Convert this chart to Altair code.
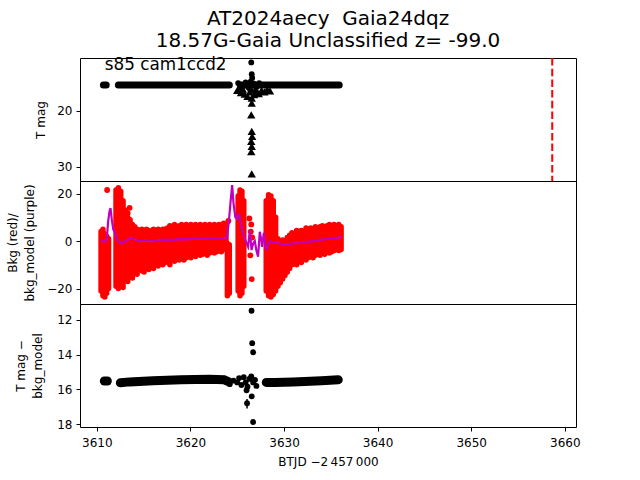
import altair as alt
import pandas as pd

FONT = "DejaVu Sans"

# ---------------- data ----------------
# Panel 1 (T mag): dense detections form a narrow band, one entry per segment end
mag_band = [(3610.7, 15.33, "A"), (3611.0, 15.33, "A"),
            (3612.3, 15.33, "B"), (3624.16, 15.33, "B"),
            (3625.33, 15.33, "C"), (3635.9, 15.33, "C")]
mag_pts = [(3626.50, 11.3), (3626.55, 13.4), (3626.60, 14.1), (3625.1, 15.0), (3625.5, 15.7),
           (3625.9, 14.9), (3626.2, 15.8), (3626.45, 14.7), (3626.75, 15.1), (3627.05, 15.75),
           (3627.35, 15.0), (3626.4, 16.3), (3625.3, 15.9)]
mag_limits = [(3626.55, 18.6), (3626.50, 20.7), (3626.55, 23.7), (3626.60, 24.6), (3626.50, 25.5),
              (3626.55, 26.4), (3626.50, 27.3), (3626.55, 31.3),
              (3625.0, 16.3), (3625.4, 16.7), (3625.8, 17.0), (3626.1, 17.4), (3626.35, 16.6),
              (3626.55, 17.7), (3626.8, 17.1), (3627.0, 16.6), (3627.3, 16.9), (3627.6, 16.3),
              (3627.9, 16.6), (3628.2, 16.2), (3628.5, 16.4), (3625.6, 16.1), (3626.95, 16.1)]
peak_time = [3658.66]
sector_label = "s85 cam1ccd2"

# Panel 2 (background): spread of red points per time step (t, low, high)
bkg_cols = [
    (3610.45, -21, 4), (3610.65, -23, 5), (3610.85, -23.5, 3), (3611.05, -22, 2), (3611.25, -20, 1),
    (3612.05, -19, 21.5), (3612.3, -20, 22.5), (3612.55, -19, 21), (3612.8, -19.5, 17),
    (3613.05, -16, 13), (3613.3, -17, 10), (3613.55, -14, 9), (3613.8, -15.5, 7),
    (3614.05, -13, 6), (3614.3, -14, 5), (3614.55, -12, 4.5), (3614.8, -12.5, 5),
    (3615.05, -13, 4), (3615.3, -11, 5), (3615.55, -12, 4.5), (3615.8, -10.5, 4),
    (3616.05, -11.5, 5), (3616.3, -10, 4.5), (3616.55, -10.5, 5), (3616.8, -9, 4.5),
    (3617.05, -10, 5), (3617.3, -9, 5), (3617.55, -8.5, 5.5), (3617.8, -10, 6.5),
    (3618.05, -8, 6), (3618.3, -8.5, 7), (3618.55, -7.5, 6), (3618.8, -8, 6.5),
    (3619.05, -7, 7), (3619.3, -8, 6.5), (3619.55, -7, 7), (3619.8, -6.5, 6.5),
    (3620.05, -7, 7), (3620.3, -6, 6.5), (3620.55, -6.5, 7), (3620.8, -5.5, 6.5),
    (3621.05, -6, 7), (3621.3, -5.5, 6.5), (3621.55, -5, 7), (3621.8, -6, 6.5),
    (3622.05, -5, 7), (3622.3, -4.5, 6.5), (3622.55, -5, 7), (3622.8, -4.5, 6.5),
    (3623.05, -4, 7), (3623.3, -4.5, 6.5), (3623.55, -3.5, 7.5), (3623.8, -3, 7),
    (3623.95, -23, -1), (3624.15, -22, -1.5),
    (3625.1, -21, 19), (3625.3, -23, 21.5), (3625.5, -22, 21), (3625.7, -19, 17),
    (3628.1, -21, 17), (3628.35, -23, 19.5), (3628.6, -23.5, 19), (3628.85, -22.5, 17),
    (3629.1, -21, 10), (3629.35, -19, 1), (3629.6, -17.5, -0.5), (3629.85, -16, 0.5),
    (3630.1, -14.5, -0.5), (3630.35, -13, 1.5), (3630.6, -11.5, 2.5), (3630.85, -10, 3.5),
    (3631.1, -9.5, 3), (3631.35, -10, 4.5), (3631.6, -8.5, 4), (3631.85, -9, 4.5),
    (3632.1, -7.5, 4), (3632.35, -8, 5.5), (3632.6, -7, 5), (3632.85, -6.5, 5.5),
    (3633.1, -7, 5), (3633.35, -6, 6), (3633.6, -5.5, 5.5), (3633.85, -6, 6),
    (3634.1, -5, 6.5), (3634.35, -5.5, 6), (3634.6, -4.5, 6.5), (3634.85, -5, 7),
    (3635.1, -4.5, 6), (3635.35, -4, 7), (3635.6, -3.5, 6.5), (3635.85, -4, 7), (3636.1, -3.5, 6),
]
bkg_dots = [(3611.1, 21.5), (3613.3, 11.8), (3613.5, 14.0), (3624.05, 8.5), (3626.3, 9.5),
            (3626.5, 7.0), (3626.45, 4.0), (3626.6, 1.5), (3626.55, -16.0), (3626.4, -6.0)]
bkg_model = [
    (3610.45, 0.0), (3610.8, -0.2), (3611.05, 0.3), (3611.2, 8.0), (3611.35, 12.5), (3611.46, 13.9),
    (3611.6, 9.0), (3611.75, 5.0), (3611.95, 3.4), (3612.15, 0.8), (3612.4, -0.4), (3612.7, -1.0),
    (3613.0, -0.2), (3613.3, 0.5), (3613.6, 1.3), (3613.9, 1.0), (3614.3, 0.2), (3614.7, 0.0),
    (3615.2, 0.3), (3615.8, -0.1), (3616.5, 0.4), (3617.2, 0.6), (3618.0, 0.5), (3618.8, 0.8),
    (3619.6, 0.7), (3620.4, 1.0), (3621.2, 0.9), (3622.0, 1.1), (3622.8, 1.2), (3623.5, 1.2),
    (3623.9, 1.5), (3624.1, 8.0), (3624.3, 17.0), (3624.46, 23.6), (3624.6, 16.0), (3624.8, 10.0),
    (3625.0, 9.5), (3625.17, 11.6), (3625.35, 8.0), (3625.55, 4.5), (3625.8, 1.1), (3626.0, -1.0),
    (3626.16, -2.4), (3626.35, 4.6), (3626.53, -3.8), (3626.7, -1.0), (3626.88, 0.0), (3627.05, -4.0),
    (3627.23, -6.6), (3627.41, 3.9), (3627.55, 1.0), (3627.66, -2.4), (3627.84, 3.4), (3628.0, -1.5),
    (3628.13, -3.8), (3628.3, -1.5), (3628.5, 0.0), (3628.8, -0.5), (3629.2, -0.8), (3629.7, -1.2),
    (3630.3, -1.4), (3631.0, -1.0), (3631.7, -0.8), (3632.4, -0.3), (3633.1, 0.0), (3633.8, 0.4),
    (3634.5, 0.9), (3635.2, 1.2), (3635.8, 1.5), (3636.15, 1.8),
]

# Panel 3 (T mag - bkg_model)
diff_band = [(3610.8, 15.52, "A"), (3611.12, 15.52, "A"),
             (3612.51, 15.62, "B"), (3613.5, 15.57, "B"), (3616.0, 15.5, "B"), (3619.0, 15.45, "B"),
             (3622.0, 15.42, "B"), (3623.6, 15.45, "B"), (3624.05, 15.55, "B"),
             (3628.1, 15.6, "D"), (3629.0, 15.6, "D"), (3631.0, 15.57, "D"), (3634.0, 15.5, "D"),
             (3635.8, 15.45, "D")]
diff_pts = [(3626.53, 11.47), (3626.6, 13.34), (3626.7, 13.86), (3625.0, 15.6), (3625.2, 15.35),
            (3625.45, 15.75), (3625.7, 15.3), (3625.9, 15.6), (3626.1, 15.85), (3626.3, 15.4),
            (3626.5, 15.25), (3626.7, 15.6), (3626.9, 15.45), (3627.05, 15.8), (3626.0, 16.05),
            (3626.55, 16.4), (3626.05, 16.8), (3626.7, 17.88), (3624.6, 15.5), (3624.2, 15.7)]
diff_err = [(3626.05, 16.55, 17.1)]

# ---------------- tables ----------------
df_mag_band = pd.DataFrame(mag_band, columns=["t", "m", "seg"])
df_mag_pts = pd.DataFrame(mag_pts, columns=["t", "m"])
df_mag_lim = pd.DataFrame(mag_limits, columns=["t", "m"])
df_peak = pd.DataFrame({"t": peak_time})
df_bkg = pd.DataFrame(bkg_cols, columns=["t", "lo", "hi"])
df_bkg_dots = pd.DataFrame(bkg_dots, columns=["t", "v"])
df_model = pd.DataFrame(bkg_model, columns=["t", "v"])
df_diff_band = pd.DataFrame(diff_band, columns=["t", "m", "seg"])
df_diff_pts = pd.DataFrame(diff_pts, columns=["t", "m"])
df_diff_err = pd.DataFrame(diff_err, columns=["t", "lo", "hi"])

W, H = 496, 123
xs = alt.Scale(domain=[3608.2, 3661.2], nice=False, zero=False)
x_none = alt.X("t:Q", scale=xs, axis=None)


def yaxis(title, tx, values):
    return alt.Axis(title=title, titleX=tx, titleY=H / 2, titleAlign="center",
                    titleBaseline="middle", titleAngle=-90, values=values, titleLineHeight=17)


# Panel 1
s1 = alt.Scale(domain=[10.5, 32.6], reverse=True, nice=False, zero=False)
y1 = lambda f: alt.Y(f, scale=s1, axis=yaxis("T mag", -40, [20, 30]))
p1 = alt.layer(
    alt.Chart(df_mag_band).mark_line(color="black", strokeWidth=7, strokeCap="round", clip=True)
    .encode(x=x_none, y=y1("m:Q"), detail="seg:N"),
    alt.Chart(df_mag_pts).mark_circle(color="black", size=34, opacity=1, clip=True)
    .encode(x=x_none, y=y1("m:Q")),
    alt.Chart(df_mag_lim).mark_point(shape="triangle-up", filled=True, color="black", size=70,
                                     opacity=1, clip=True)
    .encode(x=x_none, y=y1("m:Q")),
    alt.Chart(df_peak).mark_rule(color="red", strokeWidth=2, strokeDash=[7.5, 3.2])
    .encode(x=x_none),
    alt.Chart(df_peak).mark_text(text=sector_label, align="left", baseline="middle",
                                 font=FONT, fontSize=16.8, color="black")
    .encode(x=alt.datum(3610.85, scale=xs), y=alt.datum(11.75, scale=s1)),
).properties(
    width=W, height=H,
    title=alt.TitleParams(["AT2024aecy\u00a0 Gaia24dqz", "18.57G-Gaia Unclassified z= -99.0"],
                          fontSize=20, font=FONT, fontWeight="normal", color="black",
                          anchor="middle", frame="group", offset=6, lineHeight=22),
)

# Panel 2
s2 = alt.Scale(domain=[-26.5, 25.3], nice=False, zero=False)
p2 = alt.layer(
    alt.Chart(df_bkg).mark_rule(color="#ff0000", strokeWidth=5.5, strokeCap="round", clip=True)
    .encode(x=x_none,
            y=alt.Y("lo:Q", scale=s2,
                    axis=yaxis(["Bkg (red)/", "bkg_model (purple)"], -68, [-20, 0, 20])),
            y2="hi:Q"),
    alt.Chart(df_bkg_dots).mark_circle(color="#ff0000", size=34, opacity=1, clip=True)
    .encode(x=x_none, y=alt.Y("v:Q", scale=s2)),
    alt.Chart(df_model).mark_line(color="#bf00bf", strokeWidth=2.2, clip=True)
    .encode(x=x_none, y=alt.Y("v:Q", scale=s2)),
).properties(width=W, height=H)

# Panel 3
s3 = alt.Scale(domain=[11.08, 18.17], reverse=True, nice=False, zero=False)
x3 = alt.X("t:Q", scale=xs,
           axis=alt.Axis(title="BTJD \u22122\u2009457\u2009000", values=[3610, 3620, 3630, 3640, 3650, 3660],
                         format="d", labelPadding=6, titlePadding=8))
y3 = lambda f: alt.Y(f, scale=s3, axis=yaxis(["T mag \u2212", "bkg_model"], -60, [12, 14, 16, 18]))
p3 = alt.layer(
    alt.Chart(df_diff_band).mark_line(color="black", strokeWidth=9, strokeCap="round", clip=True)
    .encode(x=x3, y=y3("m:Q"), detail="seg:N"),
    alt.Chart(df_diff_pts).mark_circle(color="black", size=34, opacity=1, clip=True)
    .encode(x=x3, y=y3("m:Q")),
    alt.Chart(df_diff_err).mark_rule(color="black", strokeWidth=1.5)
    .encode(x=x3, y=alt.Y("lo:Q", scale=s3), y2="hi:Q"),
).properties(width=W, height=H)

chart = alt.vconcat(p1, p2, p3, spacing=0, bounds="flush").properties(
    padding={"left": 5, "top": 8, "right": 5, "bottom": 5}
).configure_view(stroke="black", strokeWidth=1).configure_axis(
    labelFont=FONT, labelFontSize=12, labelColor="black", titleFont=FONT, titleFontSize=12,
    titleFontWeight="normal", titleColor="black", tickColor="black", tickSize=4, labelPadding=4,
    domain=False, grid=False,
)

chart.save("out.html", embed_options={"renderer": "svg", "actions": False})
